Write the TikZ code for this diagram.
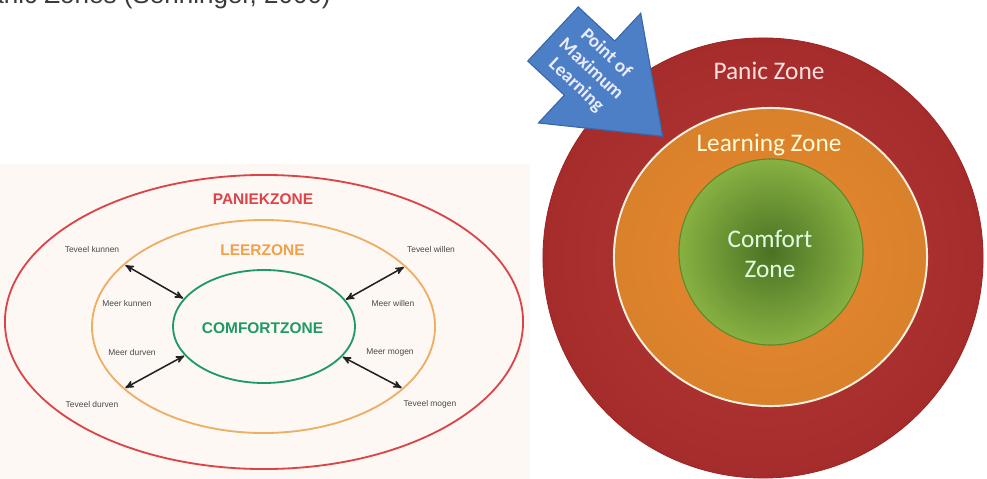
\documentclass[tikz,border=0pt]{standalone}
\usepackage{fontspec}
\setmainfont{Liberation Sans}
\newfontfamily\calibri{Carlito}
\usetikzlibrary{arrows,shapes.geometric}

\definecolor{cream}{HTML}{FDF8F3}
\definecolor{captiongray}{HTML}{3A3A3A}
\definecolor{paniekred}{HTML}{DC4449}
\definecolor{leerorange}{HTML}{EDAE66}
\definecolor{leertext}{HTML}{F2A04A}
\definecolor{comfortgreen}{HTML}{1E9A64}
\definecolor{hintgray}{HTML}{4A4A4A}
\definecolor{linkgray}{HTML}{222222}
\definecolor{panicfill}{HTML}{B3302E}
\definecolor{panicedge}{HTML}{9C2524}
\definecolor{learnfill}{HTML}{E98A2E}
\definecolor{learnedge}{HTML}{F6F1DF}
\definecolor{comfyin}{HTML}{4A7224}
\definecolor{comfyout}{HTML}{87B142}
\definecolor{comfyedge}{HTML}{5E8A2A}
\definecolor{pointblue}{HTML}{4C7FC5}
\definecolor{pointedge}{HTML}{3A67AA}

\begin{document}
\begin{tikzpicture}[x=0.025cm,y=-0.025cm]
      \tikzset{zone/.style={ellipse,draw,inner sep=0pt,outer sep=0pt,line width=1.3pt},
               zonelabel/.style={font=\bfseries\fontsize{11}{13}\selectfont},
               hint/.style={font=\fontsize{6}{7}\selectfont,text=hintgray},
               link/.style={<->,>=stealth',line width=1.1pt,draw=linkgray,shorten <=1pt,shorten >=1pt},
               ring/.style={ellipse,inner sep=0pt,outer sep=0pt},
               ringlabel/.style={font=\calibri\fontsize{18}{21}\selectfont}}
      \useasboundingbox (0,0) rectangle (987,479);
      
      % caption, cut at the top
      \node[anchor=base east,inner sep=0pt,text=captiongray,
            font=\fontsize{18.5}{20}\selectfont] (caption) at (331,3.5) {Panic Zones (Senninger, 2000)};
      
      % left: the zones model
      \fill[cream] (0,164) rectangle (530,479);
      \node[zone,draw=paniekred,minimum width=12.95cm,minimum height=7.35cm]  (paniek)  at (264,322)   {};
      \node[zone,draw=leerorange,minimum width=8.575cm,minimum height=5.325cm] (leer)    at (263.5,326.5) {};
      \node[zone,draw=comfortgreen,minimum width=4.55cm,minimum height=2.825cm] (comfort) at (264,326.5) {};
      
      \node[zonelabel,text=paniekred]    (paniektxt)  at (263,199)   {PANIEKZONE};
      \node[zonelabel,text=leertext]     (leertxt)    at (262.5,250) {LEERZONE};
      \node[zonelabel,text=comfortgreen] (comforttxt) at (262.5,328) {COMFORTZONE};
      
      \node[hint] (tkunnen) at (92,249)  {Teveel kunnen};
      \node[hint] (mkunnen) at (127,303) {Meer kunnen};
      \node[hint] (mdurven) at (132,352) {Meer durven};
      \node[hint] (tdurven) at (92,404)  {Teveel durven};
      \node[hint] (twillen) at (431,249) {Teveel willen};
      \node[hint] (mwillen) at (393,303) {Meer willen};
      \node[hint] (mmogen)  at (390,352) {Meer mogen};
      \node[hint] (tmogen)  at (430,404) {Teveel mogen};
      
      \draw[link] (leer.156) -- (comfort.161);
      \draw[link] (leer.23)  -- (comfort.18);
      \draw[link] (leer.204) -- (comfort.200);
      \draw[link] (leer.336) -- (comfort.339);
      
      % right: the rings
      \node[ring,draw=panicedge,line width=0.6pt,inner color=panicfill!95!white,outer color=panicfill!92!black,
            minimum width=11cm,minimum height=11cm] (panic) at (763,258) {};
      \node[ring,draw=learnedge,line width=1.4pt,inner color=learnfill,outer color=learnfill!93!black,
            minimum width=7.825cm,minimum height=7.45cm] (learning) at (770.5,257) {};
      \node[ring,draw=comfyedge,line width=0.8pt,inner color=comfyin,outer color=comfyout,
            minimum width=4.6cm,minimum height=4.65cm] (comfy) at (771,252) {};
      
      \node[ringlabel,text=white!88!red]                     (panictxt) at (769,71)  {Panic Zone};
      \node[ringlabel,text=white!85!yellow,anchor=base]      (learntxt) at (769,151) {Learning Zone};
      \node[ringlabel,text=white!88!green,align=center]      (comfytxt) at (770,254) {Comfort\\Zone};
      
      % block arrow
      \begin{scope}[shift={(553,34)},rotate=-43]
        \filldraw[fill=pointblue,draw=pointedge,line width=0.8pt,line join=miter]
          (0,37) -- (50,37) -- (50,75) -- (150,0) -- (50,-75) -- (50,-37) -- (0,-37) -- cycle;
        \node[rotate=-43,align=center,text=white!92!blue,inner sep=0pt,
              font=\calibri\bfseries\fontsize{13.5}{15.5}\selectfont] (pointtxt) at (52,0) {Point of\\Maximum\\Learning};
      \end{scope}
\end{tikzpicture}
\end{document}
